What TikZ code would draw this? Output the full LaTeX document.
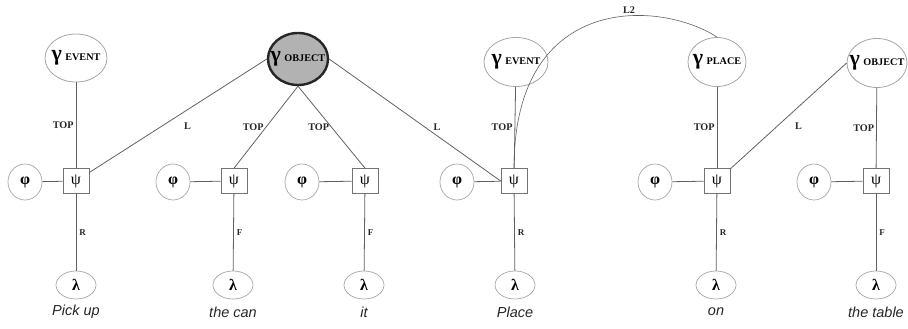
\documentclass[tikz,border=0pt]{standalone}
\usepackage{fontspec}
\setmainfont{Liberation Serif}
\newfontfamily\wordfont{Liberation Sans}
\usetikzlibrary{shapes.geometric}
\newcommand\gtxt[1]{{\fontsize{22}{22}\selectfont\bfseries γ}\kern3.5pt{\fontsize{10.2}{10.2}\selectfont\bfseries #1}}
\newcommand\gk[1]{{\fontsize{16}{16}\selectfont\bfseries #1}}
\newcommand\gkr[1]{{\fontsize{16}{16}\selectfont #1}}
\begin{document}
\begin{tikzpicture}[x=1pt,y=-1pt,
  gnode/.style={ellipse, draw=black!35, line width=0.8pt, minimum width=62pt, minimum height=48pt, inner sep=0pt, fill=white},
  gobj/.style={ellipse, draw=black!85, line width=2.4pt, fill=black!30, minimum width=60pt, minimum height=52pt, inner sep=0pt},
  psibox/.style={rectangle, draw=black!55, line width=0.7pt, minimum width=26pt, minimum height=25pt, inner sep=0pt, fill=white},
  phinode/.style={ellipse, draw=black!35, line width=0.7pt, minimum width=34pt, minimum height=36pt, inner sep=0pt, fill=white},
  lamnode/.style={ellipse, draw=black!35, line width=0.7pt, minimum width=40pt, minimum height=28pt, inner sep=0pt, fill=white},
  word/.style={font=\wordfont\itshape\fontsize{14.5}{14.5}\selectfont, text=black!85, inner sep=0pt},
  link/.style={draw=black!62, line width=0.8pt},
  elab/.style={font=\bfseries\fontsize{10.2}{10.2}\selectfont, inner sep=2pt, text=black!85},
  slab/.style={font=\bfseries\fontsize{9}{9}\selectfont, inner sep=3pt, text=black!85}
]
\useasboundingbox (0,0) rectangle (908,329);

% top gamma nodes
\node[gnode, label={[name=ev1t]center:\gtxt{EVENT}}] (ev1) at (76,58) {};
\node[gobj, label={[name=obj1t]center:\gtxt{OBJECT}}] (obj1) at (298,59) {};
\node[gnode, minimum width=64pt, minimum height=49pt, label={[name=ev2t]center:\gtxt{EVENT}}] (ev2) at (516,62) {};
\node[gnode, minimum width=58pt, minimum height=49pt, label={[name=plt]center:\gtxt{PLACE}}] (pl) at (717,62) {};
\node[gnode, minimum width=60pt, minimum height=49pt, label={[name=obj2t]center:\gtxt{OBJECT}}] (obj2) at (877,63) {};

% psi boxes
\node[psibox] (b1) at (76,181) {\gkr{ψ}};
\node[psibox] (b2) at (234,181) {\gkr{ψ}};
\node[psibox] (b3) at (365,181) {\gkr{ψ}};
\node[psibox] (b4) at (514,181) {\gkr{ψ}};
\node[psibox] (b5) at (717,181) {\gkr{ψ}};
\node[psibox] (b6) at (876,181) {\gkr{ψ}};

% phi nodes
\node[phinode] (p1) at (25,182) {\gk{φ}};
\node[phinode] (p2) at (173,182) {\gk{φ}};
\node[phinode] (p3) at (302,182) {\gk{φ}};
\node[phinode] (p4) at (457,182) {\gk{φ}};
\node[phinode] (p5) at (655,182) {\gk{φ}};
\node[phinode] (p6) at (814,182) {\gk{φ}};

% lambda nodes
\node[lamnode] (l1) at (76,285) {\gk{λ}};
\node[lamnode] (l2) at (233,285) {\gk{λ}};
\node[lamnode] (l3) at (364,285) {\gk{λ}};
\node[lamnode] (l4) at (515,285) {\gk{λ}};
\node[lamnode] (l5) at (716,285) {\gk{λ}};
\node[lamnode] (l6) at (876,285) {\gk{λ}};

% words
\node[word] (w1) at (76,312) {Pick up};
\node[word] (w2) at (233,312) {the can};
\node[word] (w3) at (364,312) {it};
\node[word] (w4) at (515,312) {Place};
\node[word] (w5) at (716,312) {on};
\node[word] (w6) at (876,312) {the table};

% phi - psi
\foreach \i in {1,...,6} { \draw[link] (p\i) -- (b\i); }

% psi - lambda
\draw[link] (b1) -- node[slab, right] {R} (l1);
\draw[link] (b2) -- node[slab, right] {F} (l2);
\draw[link] (b3) -- node[slab, right] {F} (l3);
\draw[link] (b4) -- node[slab, right] {R} (l4);
\draw[link] (b5) -- node[slab, right] {R} (l5);
\draw[link] (b6) -- node[slab, right] {F} (l6);

% TOP links
\draw[link] (ev1) -- node[elab, left] {TOP} (b1);
\draw[link] (obj1.south) -- node[elab, left] {TOP} (b2.north);
\draw[link] (obj1.south) -- node[elab, left] {TOP} (b3.north);
\draw[link] (ev2) -- node[elab, left] {TOP} (b4);
\draw[link] (pl) -- node[elab, left] {TOP} (b5);
\draw[link] (obj2) -- node[elab, left] {TOP} (b6);

% L links
\draw[link] (obj1.west) -- node[elab, pos=0.5, xshift=9.5pt, yshift=-10pt] {L} (b1);
\draw[link] (obj1.east) -- node[elab, pos=0.6, xshift=5pt, yshift=5pt] {L} (b4.west);
\draw[link] (obj2.west) -- node[elab, pos=0.5, xshift=10pt, yshift=-10pt] {L} (b5);

% L2 curve
\draw[link, line width=0.6pt] (pl.north) .. controls (660,0) and (514,-8) .. node[elab, above, pos=0.37, inner sep=1.5pt] {L2} (b4.north);
\end{tikzpicture}
\end{document}
